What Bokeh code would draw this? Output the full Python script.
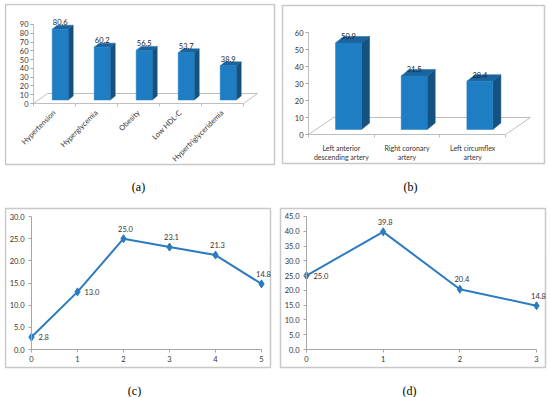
import math
from bokeh.plotting import figure
from bokeh.layouts import column, row
from bokeh.models import FixedTicker, Range1d, PrintfTickFormatter
from bokeh.core.properties import value
from bokeh.embed import file_html
from bokeh.resources import INLINE

# ---------------- data ----------------
a_categories = ["Hypertension", "Hyperglycemia", "Obesity", "Low HDL-C", "Hypertriglyceridemia"]
a_values = [80.6, 60.2, 56.5, 53.7, 38.9]
a_ticks = [0, 10, 20, 30, 40, 50, 60, 70, 80, 90]

b_categories = ["Left anterior\ndescending artery", "Right coronary\nartery", "Left circumflex\nartery"]
b_values = [50.9, 31.5, 28.4]
b_ticks = [0, 10, 20, 30, 40, 50, 60]

c_x = [0, 1, 2, 3, 4, 5]
c_values = [2.8, 13.0, 25.0, 23.1, 21.3, 14.8]
c_ticks = [0, 5, 10, 15, 20, 25, 30]
c_label_pos = ["right", "right", "above", "above", "above", "above"]

d_x = [0, 1, 2, 3]
d_values = [25.0, 39.8, 20.4, 14.8]
d_ticks = [0, 5, 10, 15, 20, 25, 30, 35, 40, 45]
d_label_pos = ["right", "above", "above", "above"]

panel_labels = ["(a)", "(b)", "(c)", "(d)"]

# ---------------- style ----------------
FONT = "Lato"
TICK_FS = "7.5px"
AXIS_COLOR = "#A6A6A6"
FLOOR_COLOR = "#BFBFBF"
BOX_COLOR = "#C8C8C8"
TEXT_COLOR = "#333333"
FRONT = "#1F7DC4"
SIDE = "#14527F"
TOPC = "#1A649E"
LINE_COLOR = "#2C7BC0"


class Geom:
    """pixel layout of one panel: canvas rect, data origin in pixels, px per unit"""
    def __init__(self, canvas, x0, px0, sx, y0, py0, sy, box, caption):
        self.cx, self.cy, self.W, self.H = canvas
        self.x0, self.px0, self.sx = x0, px0, sx
        self.y0, self.py0, self.sy = y0, py0, sy
        self.box = box
        self.caption = caption

    def X(self, px):
        return self.x0 + (px - self.px0) / self.sx

    def Y(self, py):
        return self.y0 - (py - self.py0) / self.sy


def base_fig(g, label):
    p = figure(width=g.W, height=g.H,
               x_range=Range1d(g.X(g.cx), g.X(g.cx + g.W)),
               y_range=Range1d(g.Y(g.cy + g.H), g.Y(g.cy)),
               output_backend="svg", toolbar_location=None,
               min_border_left=0, min_border_right=0,
               min_border_top=0, min_border_bottom=0)
    p.grid.visible = False
    p.outline_line_color = None
    p.background_fill_color = "white"
    p.border_fill_color = "white"
    bx0, by0, bx1, by1 = g.box
    p.quad(left=[g.X(bx0)], right=[g.X(bx1)], top=[g.Y(by0)], bottom=[g.Y(by1)],
           fill_color=None, line_color=BOX_COLOR, line_width=1.5)
    p.text(x=[g.X(g.caption[0])], y=[g.Y(g.caption[1])], text=[label],
           text_align="center", text_baseline="middle",
           text_font=value("Liberation Serif"), text_font_size="12px",
           text_color="black")
    for ax in (p.xaxis[0], p.yaxis[0]):
        ax.axis_line_color = AXIS_COLOR
        ax.major_tick_line_color = AXIS_COLOR
        ax.major_tick_out = 3
        ax.major_tick_in = 0
        ax.minor_tick_line_color = None
        ax.major_label_text_font = FONT
        ax.major_label_text_font_size = TICK_FS
        ax.major_label_text_color = TEXT_COLOR
    return p


def bar_panel(cats, vals, yticks, g, bar_px, label, cat_fs, orient,
              cat_standoff, lab_dy):
    # bar_px: shift, width, lift, bar depth dx, dy, floor depth dx, dy (pixels)
    s, w, lift, bdx, bdy, fdx, fdy = bar_px
    s, w, bdx, fdx = s / g.sx, w / g.sx, bdx / g.sx, fdx / g.sx
    lift, bdy, fdy = lift / g.sy, bdy / g.sy, fdy / g.sy
    p = base_fig(g, label)
    n = len(vals)
    idx = list(range(n))
    x0, x1 = -0.5, n - 0.5
    # floor of the 3D chart
    p.patch([x0, x0 + fdx, x1 + fdx, x1], [0, fdy, fdy, 0],
            fill_color="white", line_color=FLOOR_COLOR, line_width=1)
    left = [i + s - w / 2 for i in idx]
    right = [i + s + w / 2 for i in idx]
    bottom = [lift for _ in idx]
    top = [v + lift for v in vals]
    side_xs = [[r, r + bdx, r + bdx, r] for r in right]
    side_ys = [[b, b + bdy, t + bdy, t] for b, t in zip(bottom, top)]
    top_xs = [[l, l + bdx, r + bdx, r] for l, r in zip(left, right)]
    top_ys = [[t, t + bdy, t + bdy, t] for t in top]
    p.patches(side_xs, side_ys, fill_color=SIDE, line_color=SIDE, line_width=0.5)
    p.patches(top_xs, top_ys, fill_color=TOPC, line_color=TOPC, line_width=0.5)
    p.quad(left=left, right=right, bottom=bottom, top=top,
           fill_color=FRONT, line_color=FRONT, line_width=0.5)
    p.text(x=[i + s for i in idx], y=[t + bdy for t in top],
           text=[f"{v:.1f}" for v in vals], text_align="center",
           text_baseline="middle", y_offset=lab_dy,
           text_font=value(FONT), text_font_size=TICK_FS, text_color="#222222")
    ya = p.yaxis[0]
    ya.fixed_location = x0
    ya.bounds = (yticks[0], yticks[-1])
    ya.ticker = FixedTicker(ticks=yticks)
    ya.major_label_standoff = 2
    ya.axis_line_color = FLOOR_COLOR
    xa = p.xaxis[0]
    xa.fixed_location = 0
    xa.bounds = (x0, x1)
    xa.ticker = FixedTicker(ticks=idx, minor_ticks=[i - 0.5 for i in range(n + 1)])
    xa.major_label_overrides = {i: c for i, c in enumerate(cats)}
    xa.major_tick_out = 0
    xa.major_tick_line_color = None
    xa.minor_tick_line_color = FLOOR_COLOR
    xa.minor_tick_out = 3
    xa.minor_tick_in = 0
    xa.axis_line_color = FLOOR_COLOR
    xa.major_label_text_font_size = cat_fs
    xa.major_label_standoff = cat_standoff
    if orient is not None:
        xa.major_label_orientation = orient
    return p


def line_panel(xs, vals, yticks, pos, g, label):
    p = base_fig(g, label)
    p.line(xs, vals, line_color=LINE_COLOR, line_width=2)
    p.scatter(xs, vals, marker="diamond", size=8, fill_color=LINE_COLOR,
              line_color=LINE_COLOR)
    rx = [x for x, q in zip(xs, pos) if q == "right"]
    ry = [v for v, q in zip(vals, pos) if q == "right"]
    ax_ = [x for x, q in zip(xs, pos) if q == "above"]
    ay = [v for v, q in zip(vals, pos) if q == "above"]
    p.text(x=rx, y=ry, text=[f"{v:.1f}" for v in ry], text_align="left",
           text_baseline="middle", x_offset=7,
           text_font=value(FONT), text_font_size=TICK_FS, text_color=TEXT_COLOR)
    p.text(x=ax_, y=ay, text=[f"{v:.1f}" for v in ay], text_align="center",
           text_baseline="middle", x_offset=2, y_offset=-10,
           text_font=value(FONT), text_font_size=TICK_FS, text_color=TEXT_COLOR)
    ya = p.yaxis[0]
    ya.fixed_location = 0
    ya.bounds = (yticks[0], yticks[-1])
    ya.ticker = FixedTicker(ticks=yticks)
    ya.formatter = PrintfTickFormatter(format="%.1f")
    ya.major_label_standoff = 4
    xa = p.xaxis[0]
    xa.fixed_location = 0
    xa.bounds = (xs[0], xs[-1])
    xa.ticker = FixedTicker(ticks=xs)
    xa.major_label_standoff = 3
    return p


gA = Geom((4, 3, 273, 201), -0.5, 33, 42, 0, 103, 0.8778, (5, 4, 274, 164), (138, 186))
gB = Geom((277, 3, 272, 201), -0.5, 308, 65.67, 0, 134, 1.7, (282, 5, 544, 163), (410, 186))
gC = Geom((4, 204, 273, 193), 0, 31, 46, 0, 349, 4.433, (5, 208, 270, 367), (134, 390))
gD = Geom((277, 204, 272, 193), 0, 306, 76.67, 0, 349, 2.956, (280, 208, 545, 367), (409, 390))

pa = bar_panel(a_categories, a_values, a_ticks, gA, (5.7, 16, 3.5, 5, 4, 14, 10),
               panel_labels[0], "7.5px", math.pi / 4, 5, -3)
pb = bar_panel(b_categories, b_values, b_ticks, gB, (7.2, 26, 5, 8, 6.5, 25, 17),
               panel_labels[1], "7px", None, 6, 0)
pc = line_panel(c_x, c_values, c_ticks, c_label_pos, gC, panel_labels[2])
pd_ = line_panel(d_x, d_values, d_ticks, d_label_pos, gD, panel_labels[3])

layout = column(row(pa, pb), row(pc, pd_),
                styles={"position": "absolute", "left": "4px", "top": "3px"})

open("out.html", "w").write(file_html(layout, INLINE))
